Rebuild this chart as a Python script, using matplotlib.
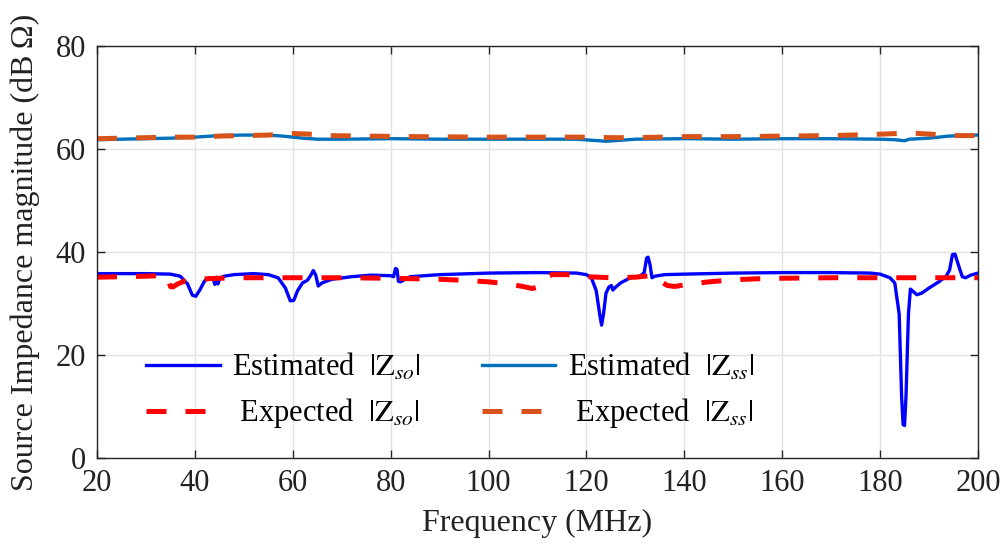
import matplotlib
matplotlib.use("Agg")
import matplotlib.pyplot as plt

plt.rcParams['font.family'] = ['Liberation Serif', 'DejaVu Serif']
plt.rcParams['mathtext.fontset'] = 'stix'

# --- data (frequency in MHz, magnitude in dB Ohm) ---
f_est_so = [20, 30, 35, 37, 38.5, 39.5, 40.2, 41, 42, 43, 43.8, 44.1, 44.4, 44.7, 45.1, 46, 48, 52,
            55, 57, 58.5, 59.5, 60.2, 61, 62, 63, 63.7, 64.2, 64.7, 65.2, 66, 68, 72, 76, 80, 80.6,
            81, 81.3, 81.6, 82, 84, 90, 100, 110, 118, 120, 121, 122, 122.7, 123.1, 123.5, 124,
            124.6, 125.1, 125.4, 126, 127, 129, 131, 131.8, 132.3, 132.6, 133, 133.4, 134, 136,
            140, 150, 160, 170, 178, 180, 182, 183, 183.9, 184.4, 184.7, 185.0, 185.3, 185.8,
            186.2, 186.8, 187.5, 188.5, 190, 192, 193.5, 194.2, 194.8, 195.3, 196, 196.8, 197.5,
            198.5, 200]
z_est_so = [35.8, 35.8, 35.7, 35.3, 33.8, 31.6, 31.4, 32.6, 34.4, 35.0, 34.6, 33.7, 35.1, 33.8, 34.9,
            35.3, 35.6, 35.8, 35.6, 35.0, 33.0, 30.5, 30.6, 32.5, 34.0, 34.5, 35.5, 36.4, 35.5, 33.4,
            34.0, 34.7, 35.2, 35.5, 35.4, 35.2, 36.8, 36.6, 34.3, 34.2, 35.2, 35.6, 35.9, 36.0, 35.9,
            35.6, 35.0, 32.5, 28.0, 25.8, 28.0, 32.0, 33.2, 33.5, 32.6, 33.2, 34.0, 35.0, 35.3, 36.0,
            38.8, 39.0, 37.5, 35.0, 35.3, 35.6, 35.7, 35.9, 36.0, 36.0, 35.9, 35.7, 35.0, 34.0, 28.0,
            12.0, 6.5, 6.3, 12.0, 28.0, 32.8, 32.3, 31.7, 32.0, 33.0, 34.2, 35.3, 36.5, 39.5, 39.6,
            37.5, 35.2, 35.0, 35.5, 35.9]

f_exp_so = [20, 25, 30, 33, 34.5, 35.0, 35.5, 36.5, 38, 40, 45, 50, 60, 70, 80, 90, 95, 100, 104,
            107, 109, 110, 111.5, 113, 116, 120, 125, 130, 133, 134, 135, 136.5, 138, 140, 145, 150,
            155, 160, 170, 180, 190, 200]
z_exp_so = [35.1, 35.2, 35.3, 35.4, 35.2, 33.3, 33.2, 33.8, 34.4, 34.7, 34.9, 35.0, 35.0, 35.0, 34.9,
            34.7, 34.5, 34.2, 33.8, 33.3, 32.9, 33.2, 35.0, 35.6, 35.6, 35.2, 35.0, 35.1, 35.4, 35.4,
            34.4, 33.5, 33.3, 33.6, 34.2, 34.6, 34.8, 34.9, 35.0, 35.0, 35.0, 35.0]

f_est_ss = [20, 25, 30, 35, 40, 45, 50, 55, 58, 62, 65, 70, 80, 90, 100, 110, 118, 121, 124, 127,
            130, 140, 150, 160, 170, 180, 183, 185, 186, 190, 194, 200]
z_est_ss = [61.8, 61.9, 62.0, 62.1, 62.3, 62.6, 62.7, 62.7, 62.5, 62.1, 61.9, 61.9, 62.0, 61.9, 61.9,
            61.9, 61.9, 61.7, 61.5, 61.7, 61.9, 62.0, 61.9, 62.0, 62.0, 61.9, 61.8, 61.6, 61.9, 62.1,
            62.5, 62.7]

f_exp_ss = [20, 25, 30, 35, 40, 45, 50, 55, 60, 63, 67, 75, 85, 100, 110, 120, 125, 130, 140, 150,
            160, 170, 178, 186, 190, 195, 200]
z_exp_ss = [62.0, 62.1, 62.2, 62.3, 62.3, 62.5, 62.6, 62.7, 63.0, 62.9, 62.6, 62.5, 62.4, 62.3, 62.3,
            62.3, 62.2, 62.2, 62.4, 62.4, 62.5, 62.6, 62.8, 63.1, 62.9, 62.6, 62.6]

x_ticks = [20, 40, 60, 80, 100, 120, 140, 160, 180, 200]
y_ticks = [0, 20, 40, 60, 80]

fig = plt.figure(figsize=(10.08, 5.5), dpi=100)
ax = fig.add_axes([0.0962, 0.1673, 0.874, 0.7491])

l1, = ax.plot(f_est_so, z_est_so, color='#0000FF', lw=2.4, label=r'Estimated  $|\mathrm{Z}_{so}|$')
l2, = ax.plot(f_est_ss, z_est_ss, color='#0072BD', lw=2.4, label=r'Estimated  $|\mathrm{Z}_{ss}|$')
l3, = ax.plot(f_exp_so, z_exp_so, color='#FF0000', lw=3.6, dashes=(4.0, 3.8),
              label=r' Expected  $|\mathrm{Z}_{so}|$')
l4, = ax.plot(f_exp_ss, z_exp_ss, color='#D95319', lw=3.6, dashes=(4.0, 3.8),
              label=r' Expected  $|\mathrm{Z}_{ss}|$')

ax.set_xlim(20, 200)
ax.set_ylim(0, 80)
ax.set_xticks(x_ticks)
ax.set_yticks(y_ticks)
ax.grid(True, color='#E3E3E3', lw=1.0)
ax.set_axisbelow(True)
ax.tick_params(direction='in', length=6, width=1, colors='#262626', labelsize=22,
               top=True, right=True, labelcolor='#222222', pad=8)
for s in ax.spines.values():
    s.set_color('#262626')
    s.set_linewidth(1.0)

ax.set_xlabel('Frequency (MHz)', fontsize=23, color='#222222', labelpad=8)
ax.set_ylabel('Source Impedance magnitude (dB\u2009\u03A9)', fontsize=23, color='#222222', labelpad=11)

ax.legend(handles=[l1, l3, l2, l4], ncol=2, frameon=False, fontsize=22,
          loc='lower left', bbox_to_anchor=(0.025, 0.0), handlelength=2.4,
          handletextpad=0.4, columnspacing=2.0, labelspacing=0.45)

fig.savefig('out.png', dpi=100)
